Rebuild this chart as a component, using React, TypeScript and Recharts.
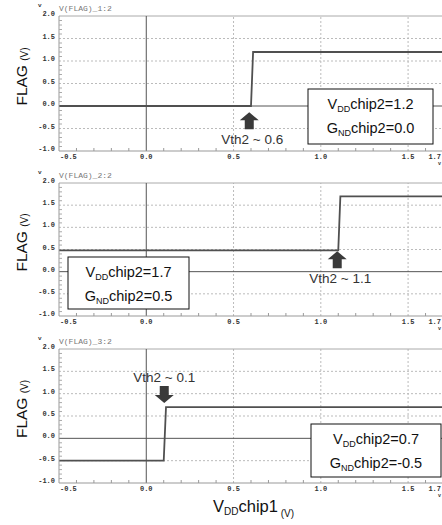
import { LineChart, Line, XAxis, YAxis, ReferenceLine, ReferenceDot } from 'recharts'

// axis ticks (V)
const xMajorTicks = [-0.5, 0.0, 0.5, 1.0, 1.5, 1.7]
const xMinorTicks = [-0.4, -0.3, -0.2, -0.1, 0.1, 0.2, 0.3, 0.4, 0.6, 0.7, 0.8, 0.9, 1.1, 1.2, 1.3, 1.4, 1.6]
const yMajorTicks = [-1.0, -0.5, 0.0, 0.5, 1.0, 1.5, 2.0]
const yMinorTicks = [
  -0.9, -0.8, -0.7, -0.6, -0.4, -0.3, -0.2, -0.1, 0.1, 0.2, 0.3, 0.4,
  0.6, 0.7, 0.8, 0.9, 1.1, 1.2, 1.3, 1.4, 1.6, 1.7, 1.8, 1.9,
]
const xDashed = [0.5, 1.0, 1.5]
const yDashed = [-0.5, 0.5, 1.0, 1.5]

// VDDchip1 sweep and FLAG output, one pair per panel
const sweep1 = [-0.5, 0.6, 0.612, 1.7]
const flag1 = [0.0, 0.0, 1.2, 1.2]
const sweep2 = [-0.5, 1.1, 1.112, 1.7]
const flag2 = [0.48, 0.48, 1.7, 1.7]
const sweep3 = [-0.5, 0.1, 0.113, 1.7]
const flag3 = [-0.5, -0.5, 0.7, 0.7]

const titles = ['V(FLAG)_1:2', 'V(FLAG)_2:2', 'V(FLAG)_3:2']
const vthLabels = ['Vth2 ~ 0.6', 'Vth2 ~ 1.1', 'Vth2 ~ 0.1']
const vthPoints = [
  { x: 0.59, y: -0.14 },
  { x: 1.094, y: 0.46 },
  { x: 0.103, y: 0.79 },
]
const vddChip2 = ['1.2', '1.7', '0.7']
const gndChip2 = ['0.0', '0.5', '-0.5']

const SANS = '"Liberation Sans", Arial, sans-serif'
const MONO = '"Liberation Mono", "DejaVu Sans Mono", monospace'
const LINE = '#505050'

const isIn = (v: number, list: number[]) => list.some((m) => Math.abs(m - v) < 1e-6)

function XTick(props: any) {
  const { x, y, payload } = props
  const v = payload.value
  if (!isIn(v, xMajorTicks)) {
    return <line x1={x} x2={x} y1={y} y2={y - 3} stroke="#999" />
  }
  const first = Math.abs(v - xMajorTicks[0]) < 1e-6
  const last = Math.abs(v - xMajorTicks[xMajorTicks.length - 1]) < 1e-6
  return (
    <text
      x={first ? x + 1 : last ? x - 2 : x}
      y={y + 8}
      textAnchor={first ? 'start' : last ? 'end' : 'middle'}
      fontFamily={MONO}
      fontWeight="bold"
      fontSize={7}
      fill="#333"
    >
      {v.toFixed(1)}
    </text>
  )
}

function YTick(props: any) {
  const { x, y, payload } = props
  const v = payload.value
  if (!isIn(v, yMajorTicks)) {
    return <line x1={x} x2={x + 3} y1={y} y2={y} stroke="#aaa" />
  }
  return (
    <text x={x - 4} y={y} textAnchor="end" fontFamily={MONO} fontWeight="bold" fontSize={7} fill="#333">
      {v.toFixed(1)}
    </text>
  )
}

function Arrow({ cx, cy, down, label }: any) {
  const s = down ? -1 : 1
  const pts = [
    [cx, cy],
    [cx + 9.5, cy + s * 8],
    [cx + 4.5, cy + s * 8],
    [cx + 4.5, cy + s * 17],
    [cx - 4.5, cy + s * 17],
    [cx - 4.5, cy + s * 8],
    [cx - 9.5, cy + s * 8],
  ]
  return (
    <g>
      <polygon points={pts.map((p) => p.join(',')).join(' ')} fill="#3a3a3a" />
      <text
        x={cx + (down ? 0 : 3)}
        y={down ? cy - 21 : cy + 32}
        textAnchor="middle"
        fontFamily={SANS}
        fontSize={13.5}
        fill="#333"
      >
        {label}
      </text>
    </g>
  )
}

type PanelProps = {
  top: number
  height: number
  xs: number[]
  ys: number[]
  idx: number
}

function Panel({ top, height, xs, ys, idx }: PanelProps) {
  const data = xs.map((x, i) => ({ x, flag: ys[i] }))
  const pt = vthPoints[idx]
  return (
    <div style={{ position: 'absolute', left: 0, top }}>
      <LineChart width={443} height={height} data={data} margin={{ top: 16, right: 0, left: 0, bottom: 0 }}>
        <XAxis
          type="number"
          dataKey="x"
          domain={[-0.5, 1.7]}
          ticks={[...xMajorTicks, ...xMinorTicks]}
          interval={0}
          tick={<XTick />}
          tickLine={false}
          tickSize={0}
          tickMargin={0}
          height={20}
          axisLine={{ stroke: '#999' }}
          allowDataOverflow
        />
        <YAxis
          type="number"
          domain={[-1, 2]}
          ticks={[...yMajorTicks, ...yMinorTicks]}
          interval={0}
          tick={<YTick />}
          tickLine={false}
          tickSize={0}
          tickMargin={0}
          width={59}
          axisLine={{ stroke: '#999' }}
          allowDataOverflow
        />
        {xDashed.map((v) => (
          <ReferenceLine key={'xv' + v} x={v} stroke="#bbb" strokeDasharray="2 2" />
        ))}
        {yDashed.map((v) => (
          <ReferenceLine key={'yh' + v} y={v} stroke="#bbb" strokeDasharray="2 2" />
        ))}
        <ReferenceLine y={2} stroke="#aaa" />
        <ReferenceLine x={0} stroke="#555" />
        <ReferenceLine y={0} stroke="#555" />
        <Line
          type="linear"
          dataKey="flag"
          stroke={LINE}
          strokeWidth={1.8}
          dot={false}
          isAnimationActive={false}
        />
        <ReferenceDot
          x={pt.x}
          y={pt.y}
          r={1}
          shape={(p: any) => <Arrow cx={p.cx} cy={p.cy} down={idx === 2} label={vthLabels[idx]} />}
        />
      </LineChart>
    </div>
  )
}

function ChipBox({ x, y, w, h, idx }: { x: number; y: number; w: number; h: number; idx: number }) {
  const cx = x + w / 2
  return (
    <g>
      <rect x={x} y={y} width={w} height={h} fill="#fff" stroke="#111" strokeWidth={1} />
      <text x={cx} y={y + 20} textAnchor="middle" fontFamily={SANS} fontSize={14.5} fill="#111">
        V<tspan fontSize={9} dy={3}>DD</tspan>
        <tspan dy={-3}>chip2={vddChip2[idx]}</tspan>
      </text>
      <text x={cx} y={y + 44} textAnchor="middle" fontFamily={SANS} fontSize={14.5} fill="#111">
        G<tspan fontSize={9} dy={3}>ND</tspan>
        <tspan dy={-3}>chip2={gndChip2[idx]}</tspan>
      </text>
    </g>
  )
}

const plotTops = [16, 183, 349]
const plotBottoms = [151, 316, 483]

export default function App() {
  return (
    <div
      style={{
        position: 'absolute',
        left: 0,
        top: 0,
        width: 442,
        height: 525,
        overflow: 'hidden',
        background: '#fff',
      }}
    >
      <Panel top={0} height={171} xs={sweep1} ys={flag1} idx={0} />
      <Panel top={167} height={169} xs={sweep2} ys={flag2} idx={1} />
      <Panel top={333} height={170} xs={sweep3} ys={flag3} idx={2} />
      <svg
        width={442}
        height={525}
        style={{ position: 'absolute', left: 0, top: 0, pointerEvents: 'none' }}
      >
        {plotTops.map((t, i) => (
          <g key={'t' + i}>
            <text x={38} y={t - 9} fontFamily={MONO} fontWeight="bold" fontSize={6} fill="#333">
              v
            </text>
            <text x={59} y={t - 5} fontFamily={MONO} fontSize={8} fill="#777">
              {titles[i]}
            </text>
            <text x={438} y={plotBottoms[i] + 14} fontFamily={MONO} fontWeight="bold" fontSize={5} fill="#333">
              v
            </text>
            <text
              transform={`translate(27, ${(t + plotBottoms[i]) / 2 - 7}) rotate(-90)`}
              textAnchor="middle"
              fontFamily={SANS}
              fontSize={15.5}
              fill="#111"
            >
              FLAG <tspan fontSize={10} dy={1}>(V)</tspan>
            </text>
          </g>
        ))}
        <ChipBox x={308} y={89} w={125} h={55} idx={0} />
        <ChipBox x={68} y={257} w={121} h={52} idx={1} />
        <ChipBox x={311} y={424} w={130} h={53} idx={2} />
        <text x={213} y={512} fontFamily={SANS} fontSize={16.5} fill="#111">
          V<tspan fontSize={10} dy={3}>DD</tspan>
          <tspan dy={-3}>chip1</tspan>
          <tspan fontSize={10} dy={5}> (V)</tspan>
        </text>
      </svg>
    </div>
  )
}
